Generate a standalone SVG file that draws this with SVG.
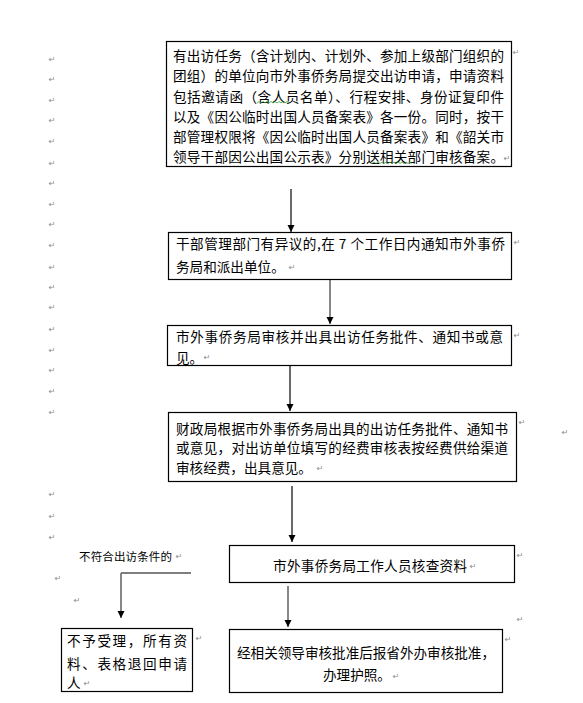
<svg xmlns="http://www.w3.org/2000/svg" width="583" height="703" viewBox="0 0 583 703">
<defs>
<marker id="ah" markerUnits="userSpaceOnUse" markerWidth="8" markerHeight="8" refX="7" refY="3.5" orient="auto">
<path d="M0,0 L7,3.5 L0,7 z" fill="#000"/>
</marker>
</defs>
<style>
.box{fill:#fff;stroke:#000;stroke-width:1.2}
.t{font-family:"Noto Sans CJK SC","Liberation Sans",sans-serif;font-size:13.6px;fill:#000}
.s{font-family:"Noto Sans CJK SC","Liberation Sans",sans-serif;font-size:11.5px;fill:#000}
.pm{font-family:"DejaVu Sans",sans-serif;font-size:8px;fill:#8a8a8a;text-anchor:middle}
.dk{stroke:#2a2a2a;stroke-width:1.4;fill:none}
.gr{stroke:#7a7a7a;stroke-width:1.8;fill:none}
.sq{stroke:#3c9b3c;stroke-width:0.8;fill:none}
</style>
<rect width="583" height="703" fill="#fff"/>

<g id="connectors">
<line class="dk" x1="291" y1="189" x2="291" y2="232" marker-end="url(#ah)"/>
<line class="gr" x1="330" y1="280" x2="330" y2="324" marker-end="url(#ah)"/>
<line class="dk" x1="290" y1="366" x2="290" y2="411" marker-end="url(#ah)"/>
<line class="dk" x1="292" y1="486" x2="292" y2="542" marker-end="url(#ah)"/>
<line class="gr" x1="288" y1="586" x2="288" y2="627" marker-end="url(#ah)"/>
<line x1="191" y1="573" x2="121" y2="573" stroke="#000" stroke-width="1.2"/>
<line class="gr" x1="121" y1="573" x2="121" y2="618" marker-end="url(#ah)"/>
</g>

<g id="node1">
<rect class="box" x="166.5" y="41.5" width="345" height="125"/>
<text class="t" x="173" y="60.5" textLength="331" lengthAdjust="spacing">有出访任务（含计划内、计划外、参加上级部门组织的</text>
<text class="t" x="173" y="81" textLength="331" lengthAdjust="spacing">团组）的单位向市外事侨务局提交出访申请，申请资料</text>
<text class="t" x="173" y="101.5" textLength="331" lengthAdjust="spacing">包括邀请函（含人员名单）、行程安排、身份证复印件</text>
<text class="t" x="173" y="122" textLength="331" lengthAdjust="spacing">以及《因公临时出国人员备案表》各一份。同时，按干</text>
<text class="t" x="173" y="142" textLength="331" lengthAdjust="spacing">部管理权限将《因公临时出国人员备案表》和《韶关市</text>
<text class="t" x="173" y="162" textLength="331" lengthAdjust="spacing">领导干部因公出国公示表》分别送相关部门审核备案。</text>
<path class="sq" d="M257,103 l2,-1.5 l2,1.5 l2,-1.5 l2,1.5 l2,-1.5 l2,1.5 l2,-1.5 l2,1.5 l2,-1.5 l2,1.5 l2,-1.5 l2,1.5 l2,-1.5 l2,1.5 l2,-1.5 l2,1.5"/>
<path class="sq" d="M372,163.5 l2,-1.5 l2,1.5 l2,-1.5 l2,1.5 l2,-1.5 l2,1.5 l2,-1.5 l2,1.5 l2,-1.5 l2,1.5 l2,-1.5 l2,1.5 l2,-1.5 l2,1.5 l2,-1.5 l2,1.5 l2,-1.5 l2,1.5 l2,-1.5 l2,1.5"/>
</g>

<g id="node2">
<rect class="box" x="168.5" y="232.5" width="343" height="47"/>
<text class="t" x="176" y="248.5" textLength="329" lengthAdjust="spacing">干部管理部门有异议的,在 7 个工作日内通知市外事侨</text>
<text class="t" x="176" y="272">务局和派出单位。</text>
</g>

<g id="node3">
<rect class="box" x="167.5" y="325.5" width="344" height="40"/>
<text class="t" x="176" y="342" textLength="327" lengthAdjust="spacing">市外事侨务局审核并出具出访任务批件、通知书或意</text>
<text class="t" x="176" y="363">见。</text>
</g>

<g id="node4">
<rect class="box" x="168.5" y="412.5" width="348" height="69"/>
<text class="t" x="176" y="433.5" textLength="332" lengthAdjust="spacing">财政局根据市外事侨务局出具的出访任务批件、通知书</text>
<text class="t" x="176" y="453" textLength="332" lengthAdjust="spacing">或意见，对出访单位填写的经费审核表按经费供给渠道</text>
<text class="t" x="176" y="472.5">审核经费，出具意见。</text>
</g>

<g id="node5">
<rect class="box" x="229.5" y="545.5" width="285" height="37"/>
<text class="t" x="273" y="571" textLength="194" lengthAdjust="spacing">市外事侨务局工作人员核查资料</text>
</g>

<g id="node6">
<rect class="box" x="229.5" y="629.5" width="273" height="63"/>
<text class="t" x="237" y="658" textLength="258" lengthAdjust="spacing">经相关领导审核批准后报省外办审核批准，</text>
<text class="t" x="323" y="680">办理护照。</text>
</g>

<g id="node7">
<rect class="box" x="61.5" y="628.5" width="131" height="63"/>
<text class="t" x="67" y="646" textLength="120" lengthAdjust="spacing">不予受理，所有资</text>
<text class="t" x="67" y="669" textLength="120" lengthAdjust="spacing">料、表格退回申请</text>
<text class="t" x="67" y="688">人</text>
</g>

<g id="label">
<text class="s" x="79" y="560.5" textLength="93" lengthAdjust="spacing">不符合出访条件的</text>
</g>

<g id="marks">
<text class="pm" x="52" y="62">↵</text>
<text class="pm" x="52" y="82">↵</text>
<text class="pm" x="52" y="103">↵</text>
<text class="pm" x="52" y="123">↵</text>
<text class="pm" x="52" y="144">↵</text>
<text class="pm" x="52" y="166">↵</text>
<text class="pm" x="52" y="186">↵</text>
<text class="pm" x="52" y="207">↵</text>
<text class="pm" x="52" y="227">↵</text>
<text class="pm" x="52" y="248">↵</text>
<text class="pm" x="52" y="270">↵</text>
<text class="pm" x="52" y="290">↵</text>
<text class="pm" x="52" y="310">↵</text>
<text class="pm" x="52" y="332">↵</text>
<text class="pm" x="52" y="353">↵</text>
<text class="pm" x="52" y="373">↵</text>
<text class="pm" x="52" y="394">↵</text>
<text class="pm" x="52" y="415">↵</text>
<text class="pm" x="52" y="497">↵</text>
<text class="pm" x="52" y="519">↵</text>
<text class="pm" x="52" y="540">↵</text>
<text class="pm" x="58" y="581">↵</text>
<text class="pm" x="77" y="603">↵</text>
<text class="pm" x="516" y="55">↵</text>
<text class="pm" x="507" y="161">↵</text>
<text class="pm" x="517" y="245">↵</text>
<text class="pm" x="292" y="270">↵</text>
<text class="pm" x="517" y="338">↵</text>
<text class="pm" x="207" y="360">↵</text>
<text class="pm" x="522" y="425">↵</text>
<text class="pm" x="565" y="435">↵</text>
<text class="pm" x="320" y="471">↵</text>
<text class="pm" x="520" y="558">↵</text>
<text class="pm" x="473" y="569">↵</text>
<text class="pm" x="179" y="559">↵</text>
<text class="pm" x="199" y="641">↵</text>
<text class="pm" x="87" y="686">↵</text>
<text class="pm" x="508" y="642">↵</text>
<text class="pm" x="520" y="622">↵</text>
<text class="pm" x="396" y="679">↵</text>
</g>
</svg>
